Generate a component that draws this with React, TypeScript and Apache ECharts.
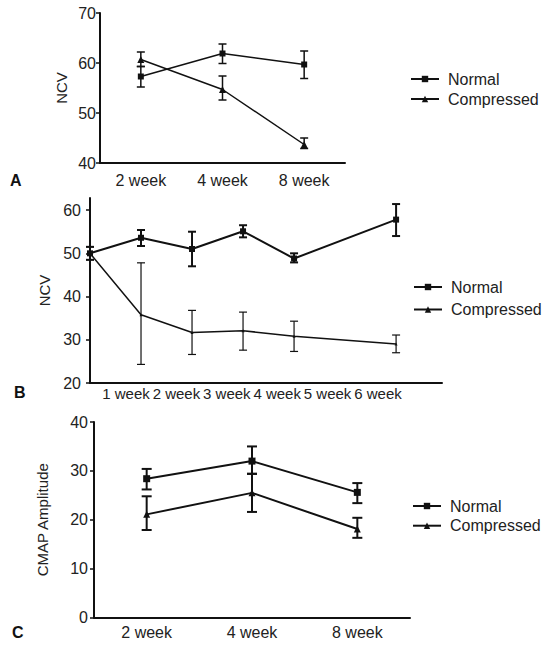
import React, { useEffect, useRef } from "react";
import * as echarts from "echarts";

// Panel A
const catsA = ["2 week", "4 week", "8 week"];
const normalA = [57.3, 61.9, 59.7];
const normalALow = [55.2, 59.9, 56.9];
const normalAHigh = [59.3, 63.8, 62.4];
const compA = [60.7, 54.7, 43.7];
const compALow = [59.3, 52.6, 42.9];
const compAHigh = [62.2, 57.4, 45.0];

// Panel B
const xB = [0, 1, 2, 3, 4, 6];
const labelsB = ["1 week", "2 week", "3 week", "4 week", "5 week", "6 week"];
const normalB = [50.0, 53.6, 51.0, 55.1, 48.8, 57.8];
const normalBLow = [48.5, 51.7, 47.0, 53.7, 47.9, 54.0];
const normalBHigh = [51.5, 55.4, 55.0, 56.5, 50.0, 61.4];
const compB = [50.0, 35.8, 31.7, 32.1, 30.8, 29.0];
const compBLow = [48.5, 24.3, 26.6, 27.6, 27.3, 27.0];
const compBHigh = [51.5, 47.8, 36.8, 36.4, 34.3, 31.1];

// Panel C
const catsC = ["2 week", "4 week", "8 week"];
const normalC = [28.4, 32.0, 25.6];
const normalCLow = [26.2, 29.4, 23.4];
const normalCHigh = [30.4, 35.0, 27.5];
const compC = [21.1, 25.5, 18.1];
const compCLow = [17.9, 21.6, 16.3];
const compCHigh = [24.8, 29.4, 20.4];

const FONT = "Liberation Sans, Arial, sans-serif";
const INK = "#111";

function errSeries(
  xs: number[],
  lows: number[],
  highs: number[],
  axisIdx: number,
  cap: number,
  lw: number
) {
  return {
    type: "custom",
    xAxisIndex: axisIdx,
    yAxisIndex: axisIdx,
    clip: false,
    silent: true,
    z: 3,
    encode: { x: 0, y: [1, 2] },
    data: xs.map((x, i) => [x, lows[i], highs[i]]),
    renderItem: (params: any, api: any) => {
      const x = api.value(0);
      const lo = api.coord([x, api.value(1)]);
      const hi = api.coord([x, api.value(2)]);
      const h = cap / 2;
      const style = { stroke: INK, lineWidth: lw };
      return {
        type: "group",
        children: [
          { type: "line", shape: { x1: lo[0], y1: lo[1], x2: hi[0], y2: hi[1] }, style },
          { type: "line", shape: { x1: lo[0] - h, y1: lo[1], x2: lo[0] + h, y2: lo[1] }, style },
          { type: "line", shape: { x1: hi[0] - h, y1: hi[1], x2: hi[0] + h, y2: hi[1] }, style },
        ],
      };
    },
  };
}

function lineSeries(
  name: string,
  data: any[],
  axisIdx: number,
  symbol: string,
  size: number,
  lw: number
) {
  return {
    type: "line",
    name,
    xAxisIndex: axisIdx,
    yAxisIndex: axisIdx,
    data,
    symbol,
    symbolSize: size,
    showSymbol: true,
    clip: false,
    z: 4,
    lineStyle: { color: INK, width: lw },
    itemStyle: { color: INK },
  };
}

const yAxisBase = (min: number, max: number, name: string, gap: number, margin: number) => ({
  type: "value",
  min,
  max,
  interval: 10,
  name,
  nameLocation: "middle",
  nameGap: gap,
  nameTextStyle: { fontFamily: FONT, fontSize: 15, color: "#222" },
  axisLine: { show: true, lineStyle: { color: INK, width: 2 } },
  axisTick: { show: true, length: 4, lineStyle: { color: INK, width: 1.5 } },
  axisLabel: { fontFamily: FONT, fontSize: 16, color: "#222", margin },
  splitLine: { show: false },
});

const legendBase = (left: number, top: number, gap: number) => ({
  orient: "vertical",
  left,
  top,
  itemWidth: 28,
  itemHeight: 8,
  itemGap: gap,
  data: ["Normal", "Compressed"],
  selectedMode: false,
  textStyle: { fontFamily: FONT, fontSize: 16, color: "#222", lineHeight: 16, padding: [0, 0, 0, 4] },
});

export default function App() {
  const ref = useRef<HTMLDivElement>(null);
  useEffect(() => {
    if (!ref.current) return;
    const chart = echarts.init(ref.current, undefined, { renderer: "svg" });
    const option: any = {
      animation: false,
      backgroundColor: "#fff",
      grid: [
        { left: 100, top: 13, width: 245, height: 150 },
        { left: 90, top: 198, width: 352, height: 185 },
        { left: 100.8, top: 198, width: 302.4, height: 185 },
        { left: 94, top: 422, width: 316, height: 195.5 },
      ],
      xAxis: [
        {
          type: "category",
          gridIndex: 0,
          data: catsA,
          boundaryGap: true,
          axisLine: { lineStyle: { color: INK, width: 2 } },
          axisTick: { show: false },
          axisLabel: { fontFamily: FONT, fontSize: 16, color: "#222", margin: 9 },
        },
        {
          type: "value",
          gridIndex: 1,
          min: 0,
          max: 6.9,
          axisLine: { show: true, lineStyle: { color: INK, width: 2 } },
          axisTick: { show: false },
          axisLabel: { show: false },
          splitLine: { show: false },
        },
        {
          type: "category",
          gridIndex: 2,
          data: labelsB,
          boundaryGap: true,
          axisLine: { show: false },
          axisTick: { show: false },
          axisLabel: { fontFamily: FONT, fontSize: 15, color: "#222", margin: 3, interval: 0, hideOverlap: false },
        },
        {
          type: "category",
          gridIndex: 3,
          data: catsC,
          boundaryGap: true,
          axisLine: { lineStyle: { color: INK, width: 2 } },
          axisTick: { show: false },
          axisLabel: { fontFamily: FONT, fontSize: 16, color: "#222", margin: 7 },
        },
      ],
      yAxis: [
        { ...yAxisBase(40, 70, "NCV", 31, 4), gridIndex: 0 },
        {
          ...yAxisBase(20, 62.8, "NCV", 33, 9),
          gridIndex: 1,
          axisLabel: {
            fontFamily: FONT,
            fontSize: 16,
            color: "#222",
            margin: 9,
            customValues: [20, 30, 40, 50, 60],
          },
          axisTick: {
            show: true,
            length: 4,
            lineStyle: { color: INK, width: 1.5 },
            customValues: [20, 30, 40, 50, 60],
          },
        },
        { type: "value", gridIndex: 2, show: false, min: 0, max: 1 },
        { ...yAxisBase(0, 40, "CMAP Amplitude", 44, 6), gridIndex: 3 },
      ],
      legend: [
        legendBase(405, 66, 4),
        legendBase(408, 274, 6.5),
        legendBase(407, 493, 3.7),
      ],
      graphic: [
        { type: "text", left: 10, top: 172, style: { text: "A", font: `bold 16px ${FONT}`, fill: INK } },
        { type: "text", left: 14, top: 384, style: { text: "B", font: `bold 16px ${FONT}`, fill: INK } },
        { type: "text", left: 12, top: 624, style: { text: "C", font: `bold 16px ${FONT}`, fill: INK } },
      ],
      series: [
        // A
        lineSeries("Normal", normalA, 0, "rect", 6, 1.5),
        lineSeries("Compressed", compA, 0, "triangle", 7, 1.5),
        errSeries([0, 1, 2], normalALow, normalAHigh, 0, 8, 1.5),
        errSeries([0, 1, 2], compALow, compAHigh, 0, 8, 1.5),
        // B
        lineSeries("Normal", xB.map((x, i) => [x, normalB[i]]), 1, "rect", 6, 2),
        lineSeries("Compressed", xB.map((x, i) => [x, compB[i]]), 1, "triangle", 3, 1.5),
        errSeries(xB, normalBLow, normalBHigh, 1, 8, 2),
        errSeries(xB, compBLow, compBHigh, 1, 8, 1.2),
        // C
        lineSeries("Normal", normalC, 3, "rect", 7, 2),
        lineSeries("Compressed", compC, 3, "triangle", 7, 2),
        errSeries([0, 1, 2], normalCLow, normalCHigh, 3, 10, 2),
        errSeries([0, 1, 2], compCLow, compCHigh, 3, 10, 2),
      ],
    };
    chart.setOption(option);
    return () => chart.dispose();
  }, []);
  return (
    <div
      ref={ref}
      style={{ position: "fixed", left: 0, top: 0, width: 550, height: 656, background: "#fff" }}
    />
  );
}
